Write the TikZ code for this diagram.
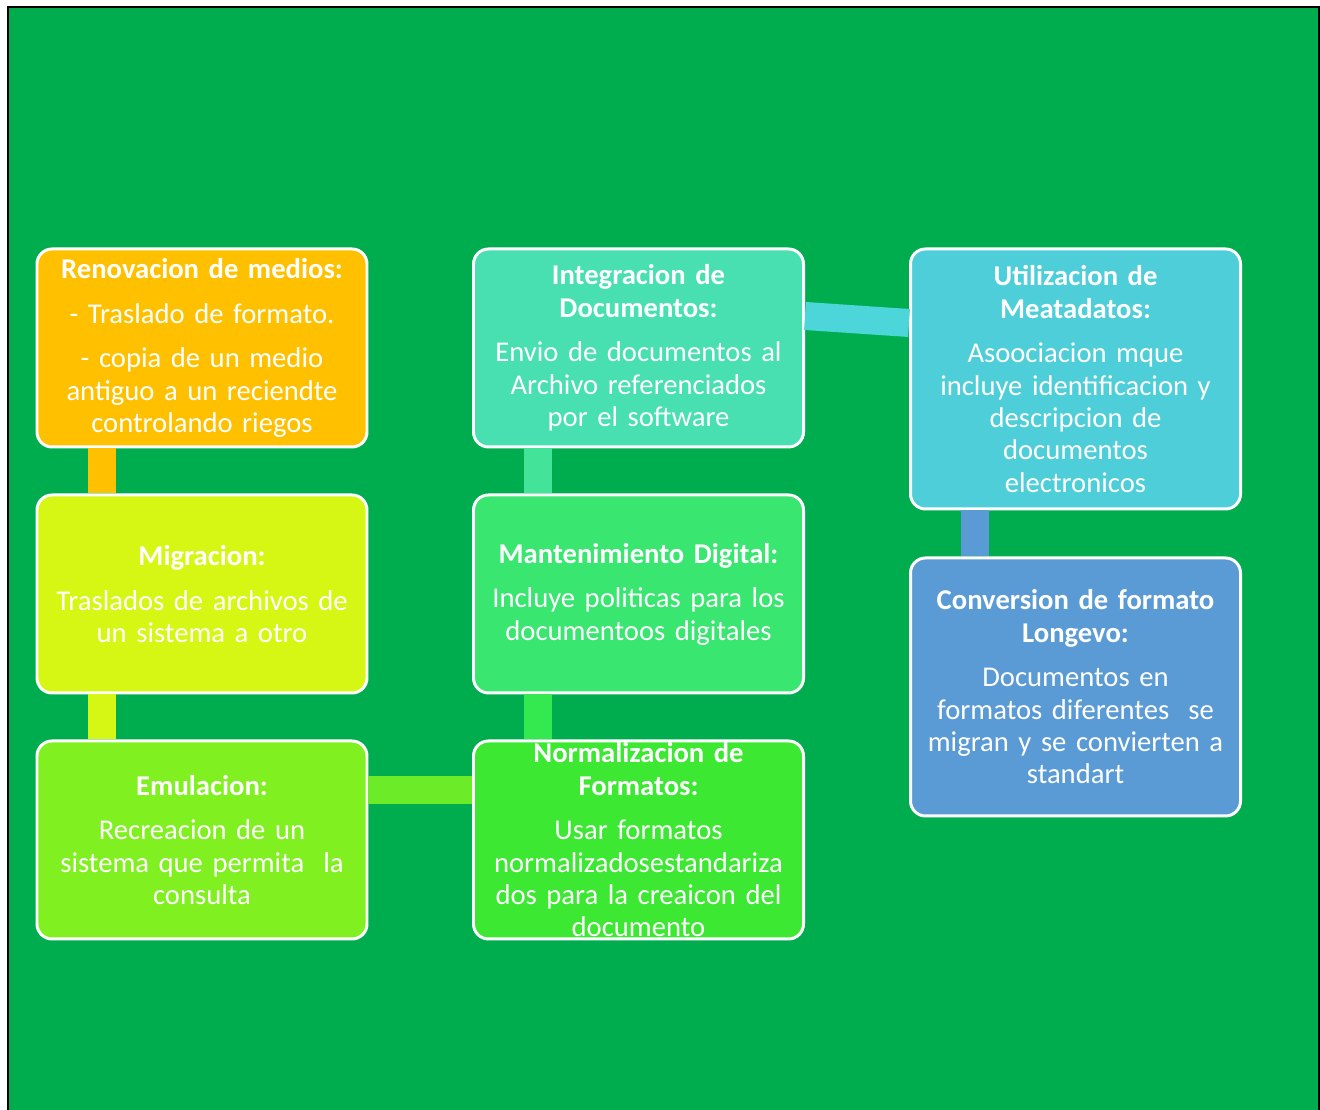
\documentclass[tikz,border=0pt]{standalone}
\usepackage{fontspec}
\setmainfont{Carlito}

\definecolor{bggreen}{HTML}{00AD4E}
\definecolor{renovc}{HTML}{FFC000}
\definecolor{migrac}{HTML}{D6F714}
\definecolor{emulc}{HTML}{80F020}
\definecolor{integc}{HTML}{48E0B0}
\definecolor{mantec}{HTML}{38E670}
\definecolor{normc}{HTML}{3CE832}
\definecolor{utilc}{HTML}{4ECED8}
\definecolor{convc}{HTML}{5B9BD5}
\definecolor{linkgreen}{HTML}{6CEB28}
\definecolor{linknorm}{HTML}{34E850}
\definecolor{linkteal}{HTML}{44E39A}
\definecolor{linkcyan}{HTML}{4DD6DA}

\tikzset{
  card/.style={draw=white, line width=1.7pt, rounded corners=0.3cm, text=white,
    minimum width=6.6cm, minimum height=3.96cm, text width=6.2cm, align=center,
    inner ysep=0pt, font=\fontsize{16.3}{18.4}\selectfont},
  link/.style={line width=0.56cm}
}

\begin{document}
\begin{tikzpicture}
  % page and green background
  \useasboundingbox (0,0) rectangle (26.4,22.2);
  \fill[white] (0,0) rectangle (26.4,22.2);
  \draw[fill=bggreen, line width=1.1pt] (0.16,-0.3) rectangle (26.38,22.06);

  % left column
  \node[card, fill=renovc] (renov) at (4.04,15.24)
    {\textbf{Renovacion de medios:}\\[7pt]- Traslado de formato.\\[7pt]- copia de un medio\\ antiguo a un reciendte\\ controlando riegos};
  \node[card, fill=migrac] (migra) at (4.04,10.32)
    {\textbf{Migracion:}\\[7pt]Traslados de archivos de\\ un sistema a otro};
  \node[card, fill=emulc] (emul) at (4.04,5.40)
    {\textbf{Emulacion:}\\[7pt]Recreacion de un\\ sistema que permita\ \ la\\ consulta};

  % middle column
  \node[card, fill=integc] (integ) at (12.77,15.24)
    {\textbf{Integracion de}\\ \textbf{Documentos:}\\[7pt]Envio de documentos al\\ Archivo referenciados\\ por el software};
  \node[card, fill=mantec] (mante) at (12.77,10.32)
    {\textbf{Mantenimiento Digital:}\\[7pt]Incluye politicas para los\\ documentoos digitales};
  \node[card, fill=normc] (norm) at (12.77,5.40)
    {\textbf{Normalizacion de}\\ \textbf{Formatos:}\\[7pt]Usar formatos\\ normalizadosestandariza\\ dos para la creaicon del\\ documento};

  % right column
  \node[card, fill=utilc, minimum height=5.2cm] (util) at (21.51,14.62)
    {\textbf{Utilizacion de}\\ \textbf{Meatadatos:}\\[7pt]Asoociacion mque\\ incluye identificacion y\\ descripcion de\\ documentos\\ electronicos};
  \node[card, fill=convc, minimum height=5.16cm] (conv) at (21.51,8.46)
    {\textbf{Conversion de formato}\\ \textbf{Longevo:}\\[7pt]Documentos en\\ formatos diferentes\ \ se\\ migran y se convierten a\\ standart};

  % links
  \draw[link, renovc] ([xshift=1.32cm]renov.south west) -- ([xshift=1.32cm]migra.north west);
  \draw[link, migrac] ([xshift=1.32cm]migra.south west) -- ([xshift=1.32cm]emul.north west);
  \draw[link, linkgreen] ([yshift=1cm]emul.east) -- ([yshift=1cm]norm.west);
  \draw[link, linknorm] ([xshift=1.32cm]norm.north west) -- ([xshift=1.32cm]mante.south west);
  \draw[link, linkteal] ([xshift=1.32cm]mante.north west) -- ([xshift=1.32cm]integ.south west);
  \draw[link, linkcyan] ([yshift=0.64cm]integ.east) -- ([yshift=1.12cm]util.west);
  \draw[link, convc] ([xshift=1.32cm]util.south west) -- ([xshift=1.32cm]conv.north west);

\end{tikzpicture}
\end{document}
